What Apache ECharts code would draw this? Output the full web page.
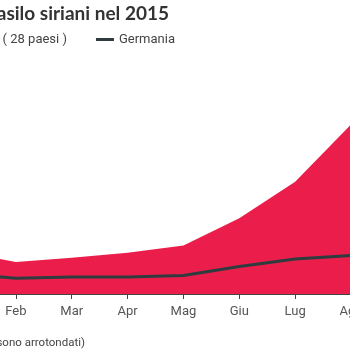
<!DOCTYPE html>
<html>
<head>
<meta charset="utf-8">
<style>
html,body{margin:0;padding:0;width:350px;height:350px;overflow:hidden;background:#fff;}
#c{position:absolute;left:-70px;top:0;width:460px;height:350px;}
</style>
<script src="https://cdn.jsdelivr.net/npm/echarts@6/dist/echarts.min.js"></script>
</head>
<body>
<div id="c"></div>
<script>
const months = ['Gen', 'Feb', 'Mar', 'Apr', 'Mag', 'Giu', 'Lug', 'Ago'];
const ueValues = [14500, 10900, 12400, 14100, 16500, 25800, 38300, 57800];
const germaniaValues = [7000, 5400, 5800, 5800, 6300, 9400, 11900, 13100];
const titleText = 'Richiedenti asilo siriani nel 2015';
const footText = '(I numeri sono arrotondati)';

const chart = echarts.init(document.getElementById('c'), null, {renderer: 'canvas'});
chart.setOption({
  animation: false,
  title: {
    text: titleText,
    right: 216,
    top: -1,
    textStyle: {fontFamily: 'Lato', fontWeight: 'bold', fontSize: 19, color: '#333'}
  },
  legend: {
    right: 210,
    top: 28,
    itemGap: 29,
    itemWidth: 18,
    itemHeight: 3,
    textStyle: {fontFamily: 'Roboto', fontSize: 13, color: '#444'},
    data: [
      {name: 'UE ( 28 paesi )', icon: 'rect'},
      {name: 'Germania', icon: 'rect'}
    ]
  },
  graphic: [{
    type: 'text',
    x: 155,
    y: 343,
    style: {text: footText, textAlign: 'right', textVerticalAlign: 'middle', fontFamily: 'Roboto', fontSize: 11.5, fill: '#444'}
  }],
  grid: {left: 30, right: 39, top: 118, bottom: 56, containLabel: false, outerBoundsMode: 'none'},
  xAxis: {
    type: 'category',
    data: months,
    boundaryGap: false,
    axisLine: {lineStyle: {color: '#444', width: 1}},
    axisTick: {show: true, length: 5, lineStyle: {color: '#444'}},
    axisLabel: {color: '#555', fontFamily: 'Roboto', fontSize: 13, margin: 11}
  },
  yAxis: {
    type: 'value', min: 0, max: 60000, show: false,
    splitLine: {show: false}
  },
  series: [
    {
      name: 'UE ( 28 paesi )',
      type: 'line',
      data: ueValues,
      symbol: 'none',
      color: '#eb1e4b',
      lineStyle: {width: 0},
      areaStyle: {color: '#eb1e4b', opacity: 1}
    },
    {
      name: 'Germania',
      type: 'line',
      data: germaniaValues,
      symbol: 'none',
      color: '#2e3c40',
      lineStyle: {width: 3, color: '#2e3c40'}
    }
  ]
});
</script>
</body>
</html>
